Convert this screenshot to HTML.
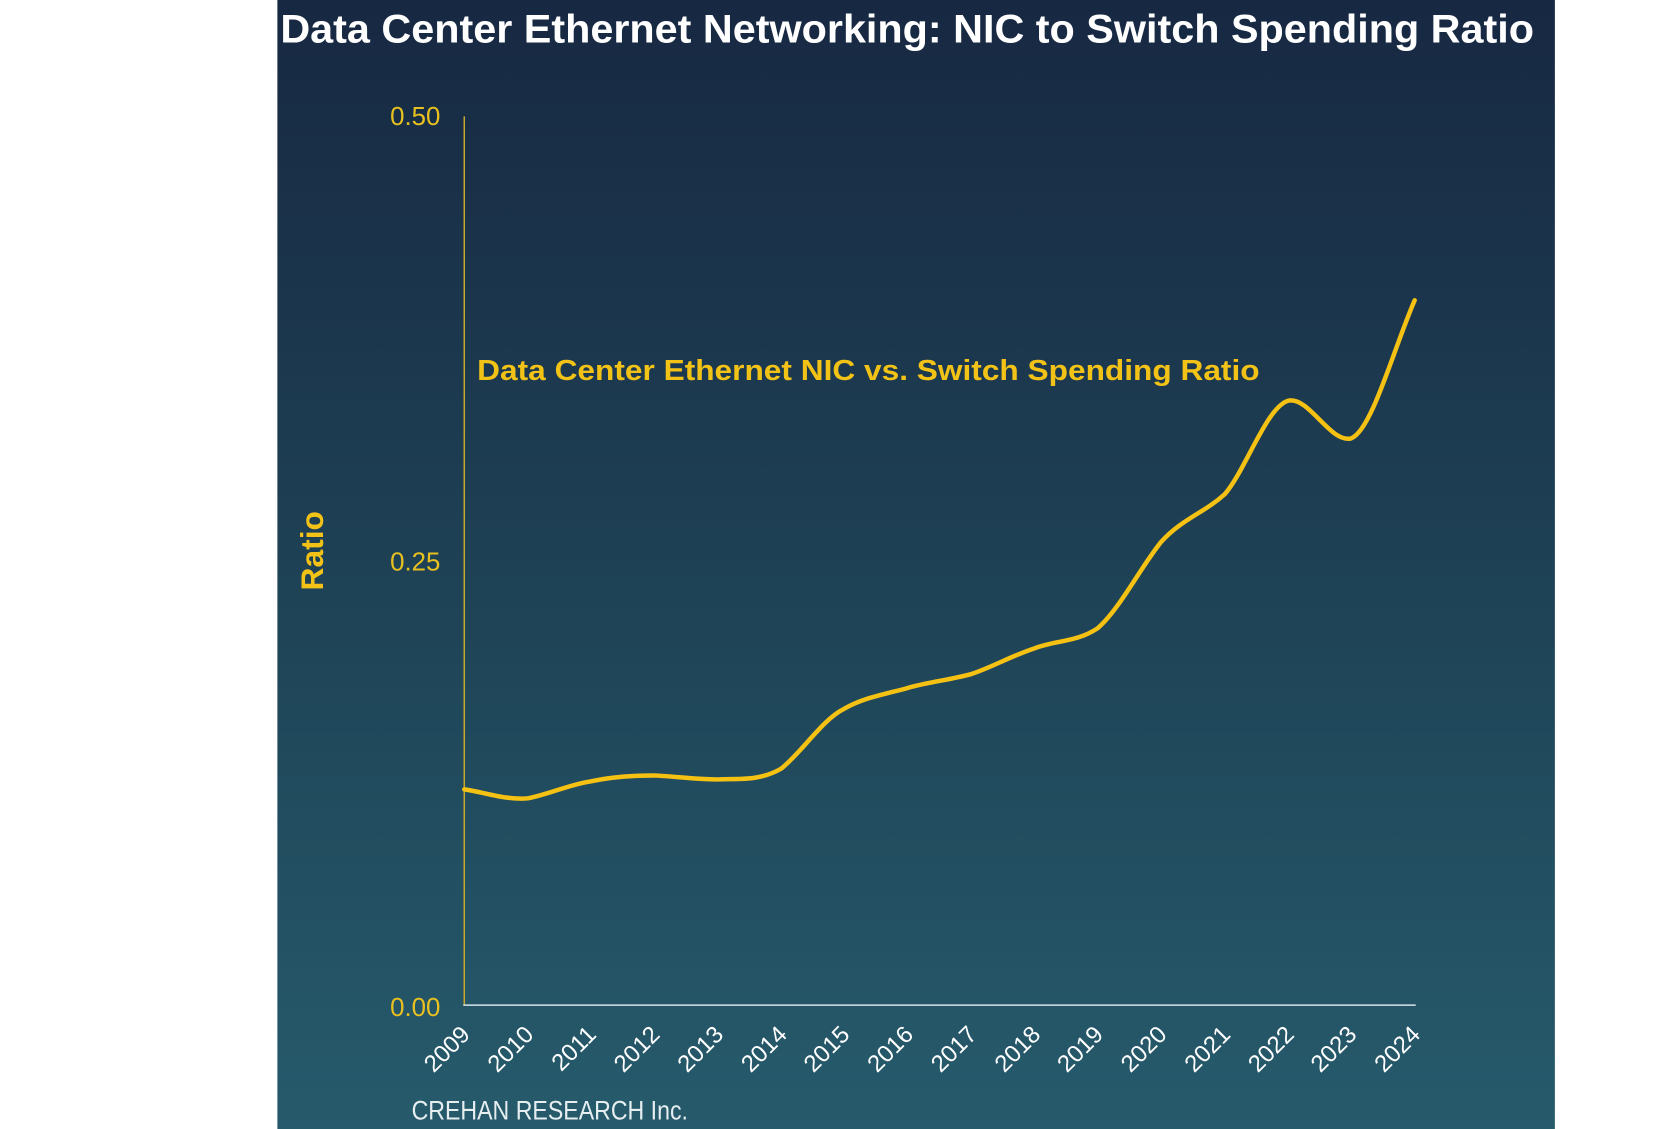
<!DOCTYPE html>
<html><head><meta charset="utf-8"><style>
html,body{margin:0;padding:0;background:#fff;}
svg{display:block;}
text{font-family:"Liberation Sans",Arial,sans-serif;}
</style></head><body>
<svg width="1663" height="1129" viewBox="0 0 1663 1129" xmlns="http://www.w3.org/2000/svg">
<defs>
<linearGradient id="bg" x1="0" y1="0" x2="0" y2="1">
<stop offset="0" stop-color="#172842"/>
<stop offset="0.5" stop-color="#1e4155"/>
<stop offset="1" stop-color="#265b6c"/>
</linearGradient>
</defs>
<rect x="0" y="0" width="1663" height="1129" fill="#fff"/>
<g transform="scale(0.99417)">
<rect x="279" y="0" width="1285" height="1140" fill="url(#bg)"/>
<text x="282" y="43" font-size="40" font-weight="bold" fill="#ffffff" textLength="1261" lengthAdjust="spacingAndGlyphs">Data Center Ethernet Networking: NIC to Switch Spending Ratio</text>
<line x1="467" y1="117" x2="467" y2="1011" stroke="#c9a92a" stroke-width="1.5"/>
<line x1="466" y1="1011" x2="1424" y2="1011" stroke="#d8e4e8" stroke-width="1.5"/>
<g font-size="26" fill="#e8c020" text-anchor="end">
<text x="443" y="126">0.50</text>
<text x="443" y="574">0.25</text>
<text x="443" y="1022">0.00</text>
</g>
<text transform="translate(325,554) rotate(-90)" font-size="32" font-weight="bold" fill="#f2c316" text-anchor="middle">Ratio</text>
<text x="480" y="382" font-size="29" font-weight="bold" fill="#f2c316" textLength="787" lengthAdjust="spacingAndGlyphs">Data Center Ethernet NIC vs. Switch Spending Ratio</text>
<path d="M467,794 C488,797 509,805 531,803 C552,799 573,789 594,786 C616,781 637,780 658,780 C679,781 701,784 722,784 C743,783 764,786 786,773 C807,756 828,723 849,713 C870,701 892,698 913,692 C934,686 955,684 977,678 C998,671 1019,659 1041,652 C1062,644 1083,646 1104,632 C1126,613 1147,571 1168,545 C1189,522 1211,516 1232,497 C1253,473 1274,409 1296,403 C1317,399 1338,446 1359,441 C1380,433 1402,350 1423,302" fill="none" stroke="#f5c214" stroke-width="4.5" stroke-linecap="round" stroke-linejoin="round"/>
<g font-size="24" fill="#ffffff" text-anchor="end">
<text transform="translate(474,1042) rotate(-45)">2009</text>
<text transform="translate(538,1042) rotate(-45)">2010</text>
<text transform="translate(601,1042) rotate(-45)">2011</text>
<text transform="translate(665,1042) rotate(-45)">2012</text>
<text transform="translate(729,1042) rotate(-45)">2013</text>
<text transform="translate(793,1042) rotate(-45)">2014</text>
<text transform="translate(856,1042) rotate(-45)">2015</text>
<text transform="translate(920,1042) rotate(-45)">2016</text>
<text transform="translate(984,1042) rotate(-45)">2017</text>
<text transform="translate(1048,1042) rotate(-45)">2018</text>
<text transform="translate(1111,1042) rotate(-45)">2019</text>
<text transform="translate(1175,1042) rotate(-45)">2020</text>
<text transform="translate(1239,1042) rotate(-45)">2021</text>
<text transform="translate(1303,1042) rotate(-45)">2022</text>
<text transform="translate(1366,1042) rotate(-45)">2023</text>
<text transform="translate(1430,1042) rotate(-45)">2024</text>
</g>
<text x="414" y="1126" font-size="27" fill="#e6eef0" textLength="278" lengthAdjust="spacingAndGlyphs">CREHAN RESEARCH Inc.</text>
</g>
</svg>
</body></html>
